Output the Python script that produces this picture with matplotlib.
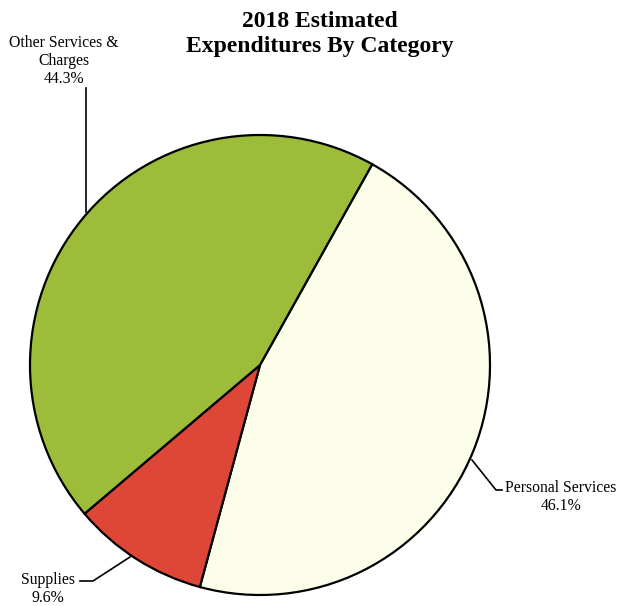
import matplotlib
matplotlib.use("Agg")
import matplotlib.pyplot as plt

categories = ["Personal Services", "Supplies", "Other Services &\nCharges"]
shares = [46.1, 9.6, 44.3]
colors = ["#fdfee9", "#de4638", "#9dbd3a"]

W, H = 617, 606
fig = plt.figure(figsize=(W / 100, H / 100), dpi=100)
ax = fig.add_axes([0, 0, 1, 1])

cx, cy, r = 260, H - 365, 230
ax.pie(shares, colors=colors, startangle=60.8, counterclock=False,
       center=(cx, cy), radius=r, frame=True,
       wedgeprops=dict(edgecolor="black", linewidth=1.6))
ax.set_xlim(0, W)
ax.set_ylim(0, H)
ax.set_aspect("equal")
ax.axis("off")

serif = ["Liberation Serif", "DejaVu Serif"]

ax.text(320, H - 34, "2018 Estimated\nExpenditures By Category", ha="center", va="center",
        fontsize=17, fontweight="bold", family=serif, linespacing=1.25)

lbl = [f"{c}\n{s}%" for c, s in zip(categories, shares)]
fs = 11.3

# Personal Services
ax.plot([472, 496, 502], [H - 460, H - 490, H - 490], color="black", lw=1.2)
ax.text(561, H - 497, lbl[0], ha="center", va="center", fontsize=fs,
        family=serif, linespacing=1.25)

# Supplies
ax.plot([130, 93, 80], [H - 557, H - 581, H - 581], color="black", lw=1.2)
ax.text(48, H - 589, lbl[1], ha="center", va="center", fontsize=fs,
        family=serif, linespacing=1.25)

# Other Services & Charges
ax.plot([86, 86], [H - 88, H - 212], color="black", lw=1.2)
ax.text(64, H - 61, lbl[2], ha="center", va="center", fontsize=fs,
        family=serif, linespacing=1.2)

fig.savefig("out.png", dpi=100, facecolor="white")
